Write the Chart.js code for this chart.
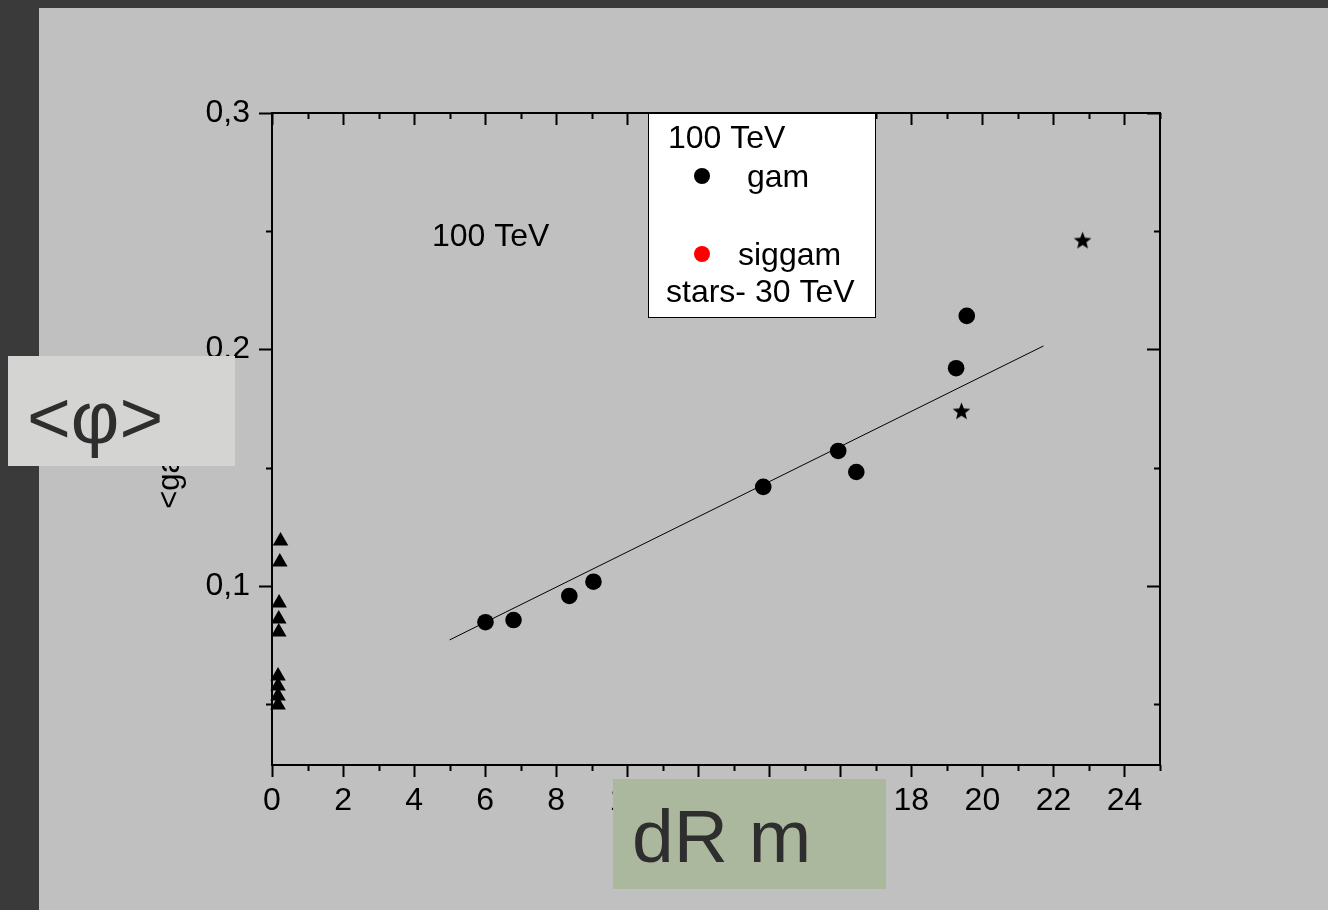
<!DOCTYPE html>
<html>
<head>
<meta charset="utf-8">
<title>phi vs dR</title>
<script src="https://cdn.jsdelivr.net/npm/chart.js@4.4.0/dist/chart.umd.min.js"></script>
<style>
html, body { margin: 0; padding: 0; background: #3a3a3a; }
canvas { display: block; }
</style>
</head>
<body>
<canvas id="phi-chart" width="1328" height="910"></canvas>
<script>
// gam, 100 TeV
var gamX = [6.01, 6.80, 8.37, 9.05, 13.83, 15.94, 16.45, 19.26, 19.56];
var gamY = [0.0847, 0.0856, 0.0958, 0.1018, 0.1419, 0.1571, 0.1482, 0.1921, 0.2142];
// siggam (no points)
var siggamX = [];
var siggamY = [];
// stars - 30 TeV
var starX = [19.41, 22.82];
var starY = [0.1737, 0.2459];
// triangles close to dR = 0
var triX = [0.24, 0.22, 0.20, 0.19, 0.19, 0.17, 0.17, 0.17, 0.17];
var triY = [0.1190, 0.1101, 0.0928, 0.0860, 0.0805, 0.0619, 0.0577, 0.0535, 0.0497];
// linear fit
var fitX = [5.0, 21.72];
var fitY = [0.0772, 0.2015];

var xTicks = [0, 1, 2, 3, 4, 5, 6, 7, 8, 9, 10, 11, 12, 13, 14, 15, 16, 17, 18, 19, 20, 21, 22, 23, 24, 25];
var xTickLabels = ['0', '', '2', '', '4', '', '6', '', '8', '', '10', '', '12', '', '14', '', '16', '', '18', '', '20', '', '22', '', '24', ''];
var yTicks = [0.05, 0.1, 0.15, 0.2, 0.25, 0.3];
var yTickLabels = ['', '0,1', '', '0,2', '', '0,3'];

var FONT = '"Liberation Sans", Arial, sans-serif';

function pts(xs, ys) {
    return xs.map(function (x, i) { return { x: x, y: ys[i] }; });
}

// filled five point star used as point style
function makeStar(R, r) {
    var c = document.createElement('canvas');
    var s = Math.ceil(R * 2) + 2;
    c.width = s;
    c.height = s;
    var g = c.getContext('2d');
    g.translate(s / 2, s / 2);
    g.beginPath();
    for (var i = 0; i < 10; i++) {
        var rad = i % 2 ? r : R;
        var a = -Math.PI / 2 + i * Math.PI / 5;
        g.lineTo(rad * Math.cos(a), rad * Math.sin(a));
    }
    g.closePath();
    g.fillStyle = '#000';
    g.fill();
    return c;
}

var framePlugin = {
    id: 'frame',
    beforeDraw: function (chart) {
        var ctx = chart.ctx;
        ctx.save();
        ctx.fillStyle = '#3a3a3a';
        ctx.fillRect(0, 0, chart.width, chart.height);
        ctx.fillStyle = '#c0c0c0';
        ctx.fillRect(39, 8, chart.width - 39, chart.height - 8);
        ctx.restore();
    },
    beforeDatasetsDraw: function (chart) {
        var ctx = chart.ctx;
        var a = chart.chartArea;
        var xs = chart.scales.x, ys = chart.scales.y;
        ctx.save();
        ctx.strokeStyle = '#000';
        ctx.lineWidth = 2;
        ctx.strokeRect(a.left, a.top, a.right - a.left, a.bottom - a.top);
        ctx.beginPath();
        xTicks.forEach(function (v, i) {
            var px = Math.round(xs.getPixelForValue(v)) + 0.5;
            var len = xTickLabels[i] ? 12 : 6;
            ctx.moveTo(px, a.bottom);
            ctx.lineTo(px, a.bottom + len);
            ctx.moveTo(px, a.top);
            ctx.lineTo(px, a.top + len);
        });
        yTicks.forEach(function (v, i) {
            var py = Math.round(ys.getPixelForValue(v)) + 0.5;
            var len = yTickLabels[i] ? 13 : 6;
            ctx.moveTo(a.left, py);
            ctx.lineTo(a.left - len, py);
            ctx.moveTo(a.right, py);
            ctx.lineTo(a.right - len, py);
        });
        ctx.stroke();
        ctx.restore();
    },
    afterDraw: function (chart) {
        var ctx = chart.ctx;
        ctx.save();
        ctx.textBaseline = 'alphabetic';
        ctx.textAlign = 'left';
        ctx.fillStyle = '#000';
        ctx.font = '32px ' + FONT;
        ctx.fillText('100 TeV', 432, 246);

        // legend box
        ctx.fillStyle = '#fff';
        ctx.fillRect(648, 113, 228, 205);
        ctx.strokeStyle = '#000';
        ctx.lineWidth = 1;
        ctx.strokeRect(648.5, 113.5, 227, 204);
        ctx.fillStyle = '#000';
        ctx.fillText('100 TeV', 668, 148);
        ctx.fillText('gam', 747, 187);
        ctx.fillText('siggam', 738, 265);
        ctx.fillText('stars- 30 TeV', 666, 302);
        ctx.beginPath();
        ctx.arc(702, 176, 8, 0, Math.PI * 2);
        ctx.fill();
        ctx.fillStyle = '#ff0000';
        ctx.beginPath();
        ctx.arc(702, 254, 8, 0, Math.PI * 2);
        ctx.fill();

        // axis name labels
        ctx.fillStyle = '#d4d4d2';
        ctx.fillRect(8, 356, 227, 110);
        ctx.fillStyle = '#abb89e';
        ctx.fillRect(613, 779, 273, 110);
        ctx.fillStyle = '#2e2e2e';
        ctx.font = '75px ' + FONT;
        ctx.fillText('<\u03c6>', 27, 443);
        ctx.fillText('dR m', 632, 862);
        ctx.restore();
    }
};

var ctx = document.getElementById('phi-chart').getContext('2d');
var chart = new Chart(ctx, {
    type: 'scatter',
    data: {
        datasets: [{
            label: 'fit',
            data: pts(fitX, fitY),
            showLine: true,
            borderColor: '#000',
            borderWidth: 1,
            pointRadius: 0,
            clip: false
        }, {
            label: 'gam',
            data: pts(gamX, gamY),
            pointStyle: 'circle',
            pointRadius: 8.3,
            backgroundColor: '#000',
            borderColor: '#000',
            borderWidth: 0,
            clip: false
        }, {
            label: 'siggam',
            data: pts(siggamX, siggamY),
            pointStyle: 'circle',
            pointRadius: 8,
            backgroundColor: '#ff0000',
            borderWidth: 0
        }, {
            label: 'stars- 30 TeV',
            data: pts(starX, starY),
            pointStyle: makeStar(9.3, 4.0),
            clip: false
        }, {
            label: 'triangles',
            data: pts(triX, triY),
            pointStyle: 'triangle',
            pointRadius: 9,
            backgroundColor: '#000',
            borderColor: '#000',
            borderWidth: 0,
            clip: false
        }]
    },
    options: {
        responsive: false,
        animation: false,
        layout: {
            padding: { top: 113, right: 168, left: 0, bottom: 0 }
        },
        plugins: {
            legend: { display: false },
            tooltip: { enabled: false }
        },
        scales: {
            x: {
                type: 'linear',
                min: 0,
                max: 25,
                grid: { display: false, drawTicks: false },
                border: { display: false },
                afterBuildTicks: function (scale) {
                    scale.ticks = xTicks.map(function (v) { return { value: v }; });
                },
                afterFit: function (scale) {
                    scale.height = 145;
                },
                ticks: {
                    autoSkip: false,
                    maxRotation: 0,
                    padding: 17,
                    color: '#000',
                    font: { size: 32, family: FONT },
                    callback: function (value, index) {
                        return xTickLabels[index];
                    }
                }
            },
            y: {
                type: 'linear',
                min: 0.02431,
                max: 0.3,
                grid: { display: false, drawTicks: false },
                border: { display: false },
                afterBuildTicks: function (scale) {
                    scale.ticks = yTicks.map(function (v) { return { value: v }; });
                },
                afterFit: function (scale) {
                    scale.width = 272;
                },
                title: {
                    display: true,
                    text: '<gamma>',
                    color: '#000',
                    font: { size: 31, family: FONT },
                    padding: { top: 152, bottom: 0 }
                },
                ticks: {
                    autoSkip: false,
                    padding: 22,
                    color: '#000',
                    font: { size: 32, family: FONT },
                    callback: function (value, index) {
                        return yTickLabels[index];
                    }
                }
            }
        }
    },
    plugins: [framePlugin]
});
</script>
</body>
</html>
